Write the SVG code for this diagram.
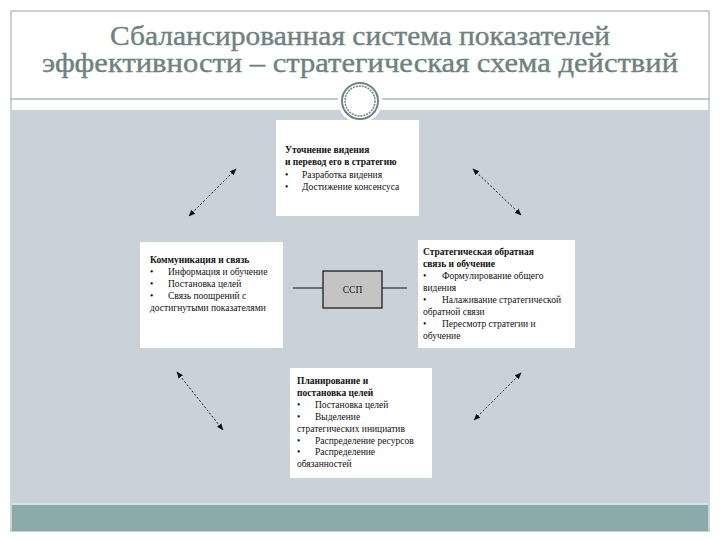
<svg xmlns="http://www.w3.org/2000/svg" width="720" height="540" viewBox="0 0 720 540">
<style>
.title{font-family:"Liberation Serif","Times New Roman",Tinos,"DejaVu Serif","Noto Serif",serif;font-size:27px;fill:#6f827f;stroke:#6f827f;stroke-width:0.4;text-anchor:middle}
.t{font-family:"Liberation Serif","Times New Roman",Tinos,"DejaVu Serif","Noto Serif",serif;font-size:9.5px;fill:#111}
.b{font-weight:bold}
.box{fill:#ffffff;stroke:none}
.conn{stroke:#111;stroke-width:1;stroke-dasharray:2,2;fill:none}
</style>
<defs>
<marker id="ah" viewBox="0 0 10 10" refX="9" refY="5" markerWidth="7" markerHeight="7" orient="auto-start-reverse" markerUnits="userSpaceOnUse">
<path d="M0,1 L10,5 L0,9 z" fill="#111"/>
</marker>
</defs>
<rect x="0" y="0" width="720" height="540" fill="#ffffff"/>
<rect x="11" y="11" width="698" height="520" fill="#ffffff" stroke="#9aa6a6" stroke-width="1"/>
<rect x="12" y="110" width="696" height="394" fill="#c8d2d8"/>
<rect x="12" y="503" width="696" height="2" fill="#d5e2e4"/>
<rect x="12" y="505" width="696" height="26" fill="#8aabaa"/>
<line x1="11" y1="99" x2="709" y2="99" stroke="#8a9796" stroke-width="1"/>
<g id="ornament">
<circle cx="360" cy="101" r="22" fill="#ffffff"/>
<circle cx="360" cy="101" r="18" fill="none" stroke="#6f8583" stroke-width="2"/>
<circle cx="360" cy="101" r="15" fill="none" stroke="#6f8583" stroke-width="1.5" stroke-dasharray="2,1"/>
</g>
<g id="title">
<text class="title" x="360" y="45" textLength="500" lengthAdjust="spacingAndGlyphs">Сбалансированная система показателей</text>
<text class="title" x="360" y="72" textLength="636" lengthAdjust="spacingAndGlyphs">эффективности – стратегическая схема действий</text>
</g>
<g id="connectors">
<line class="conn" x1="189" y1="216" x2="236" y2="169" marker-start="url(#ah)" marker-end="url(#ah)"/>
<line class="conn" x1="473" y1="169" x2="521" y2="215" marker-start="url(#ah)" marker-end="url(#ah)"/>
<line class="conn" x1="177" y1="372" x2="223" y2="430" marker-start="url(#ah)" marker-end="url(#ah)"/>
<line class="conn" x1="521" y1="373" x2="474" y2="420" marker-start="url(#ah)" marker-end="url(#ah)"/>
<line x1="293" y1="288" x2="323" y2="288" stroke="#111" stroke-width="1"/>
<line x1="382" y1="288" x2="407" y2="288" stroke="#111" stroke-width="1"/>
</g>
<g id="node-vision">
<rect class="box" x="276" y="120" width="143" height="96"/>
<text class="t b" x="285" y="153">Уточнение видения</text>
<text class="t b" x="285" y="165">и перевод его в стратегию</text>
<text class="t" x="285" y="178">•</text><text class="t" x="302" y="178">Разработка видения</text>
<text class="t" x="285" y="190">•</text><text class="t" x="302" y="190">Достижение консенсуса</text>
</g>
<g id="node-communication">
<rect class="box" x="140" y="242" width="143" height="106"/>
<text class="t b" x="150" y="263">Коммуникация и связь</text>
<text class="t" x="150" y="275">•</text><text class="t" x="168" y="275">Информация и обучение</text>
<text class="t" x="150" y="287">•</text><text class="t" x="168" y="287">Постановка целей</text>
<text class="t" x="150" y="299">•</text><text class="t" x="168" y="299">Связь поощрений с</text>
<text class="t" x="150" y="311">достигнутыми показателями</text>
</g>
<g id="node-feedback">
<rect class="box" x="418" y="240" width="157" height="108"/>
<text class="t b" x="423" y="255">Стратегическая обратная</text>
<text class="t b" x="423" y="267">связь и обучение</text>
<text class="t" x="423" y="279">•</text><text class="t" x="442" y="279">Формулирование общего</text>
<text class="t" x="423" y="291">видения</text>
<text class="t" x="423" y="303">•</text><text class="t" x="442" y="303">Налаживание стратегической</text>
<text class="t" x="423" y="315">обратной связи</text>
<text class="t" x="423" y="327">•</text><text class="t" x="442" y="327">Пересмотр стратегии и</text>
<text class="t" x="423" y="339">обучение</text>
</g>
<g id="node-planning">
<rect class="box" x="290" y="368" width="142" height="110"/>
<text class="t b" x="297" y="384">Планирование и</text>
<text class="t b" x="297" y="396">постановка целей</text>
<text class="t" x="297" y="408">•</text><text class="t" x="315" y="408">Постановка целей</text>
<text class="t" x="297" y="420">•</text><text class="t" x="315" y="420">Выделение</text>
<text class="t" x="297" y="432">стратегических инициатив</text>
<text class="t" x="297" y="444">•</text><text class="t" x="315" y="444">Распределение ресурсов</text>
<text class="t" x="297" y="455">•</text><text class="t" x="315" y="455">Распределение</text>
<text class="t" x="297" y="467">обязанностей</text>
</g>
<g id="node-bsc">
<rect x="323" y="271" width="59" height="37" fill="#c4c4c4" stroke="#111" stroke-width="1.2"/>
<text class="t" x="352.5" y="293" text-anchor="middle" font-size="10">ССП</text>
</g>
</svg>
